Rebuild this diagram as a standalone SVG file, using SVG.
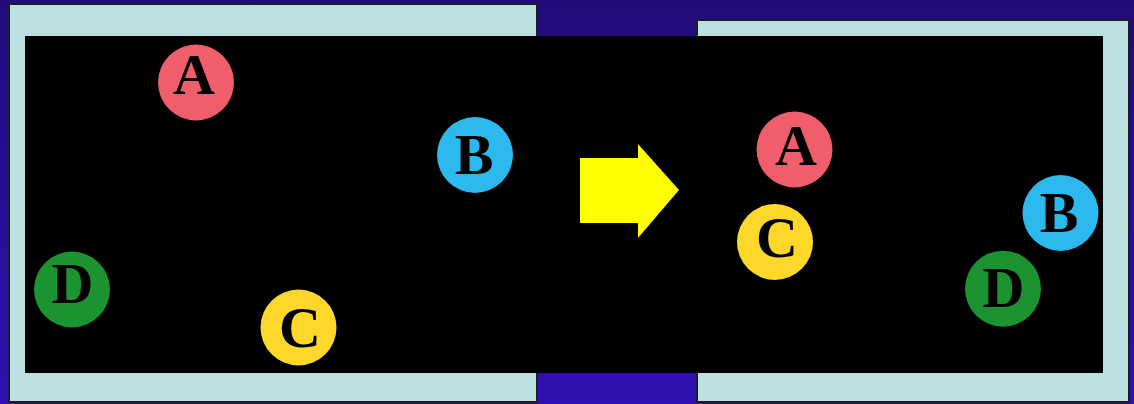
<svg xmlns="http://www.w3.org/2000/svg" width="1134" height="404" viewBox="0 0 1134 404">
  <defs>
    <linearGradient id="bg" x1="0" y1="0" x2="0" y2="1">
      <stop offset="0" stop-color="#220b79"/>
      <stop offset="1" stop-color="#3010b2"/>
    </linearGradient>
  </defs>
  <style>
    .panel { fill: #bce0e2; stroke: #1c1c28; stroke-width: 2; }
    .lbl { font-family: "Liberation Serif", "Times New Roman", serif; font-weight: bold; font-size: 58px; fill: #000; text-anchor: middle; }
    .ca { fill: #f05d6b; }
    .cb { fill: #2cbaee; }
    .cc { fill: #fdd82a; }
    .cd { fill: #1b9331; }
  </style>
  <rect x="0" y="0" width="1134" height="404" fill="url(#bg)"/>
  <rect class="panel" x="9" y="4" width="528" height="398"/>
  <rect class="panel" x="697" y="20" width="432" height="382"/>
  <rect x="25" y="36" width="1078" height="337" fill="#000"/>
  <g id="arrow">
    <polygon points="580,158 638,158 638,144 679,190 638,238 638,223 580,223" fill="#ffff00"/>
  </g>
  <g id="left-A"><circle class="ca" cx="196" cy="82.5" r="38"/><text class="lbl" x="194" y="94">A</text></g>
  <g id="left-B"><circle class="cb" cx="475" cy="155" r="38"/><text class="lbl" x="474" y="174">B</text></g>
  <g id="left-C"><circle class="cc" cx="298.5" cy="327.5" r="38"/><text class="lbl" x="300" y="347">C</text></g>
  <g id="left-D"><circle class="cd" cx="72" cy="289.5" r="38"/><text class="lbl" x="72.5" y="303">D</text></g>
  <g id="right-A"><circle class="ca" cx="794.5" cy="149.5" r="38"/><text class="lbl" x="796" y="165">A</text></g>
  <g id="right-B"><circle class="cb" cx="1060.5" cy="213" r="38"/><text class="lbl" x="1059" y="232">B</text></g>
  <g id="right-C"><circle class="cc" cx="775" cy="242" r="38"/><text class="lbl" x="777" y="257">C</text></g>
  <g id="right-D"><circle class="cd" cx="1003" cy="288.7" r="38"/><text class="lbl" x="1003.5" y="307">D</text></g>
  <g id="connectors"/>
</svg>
